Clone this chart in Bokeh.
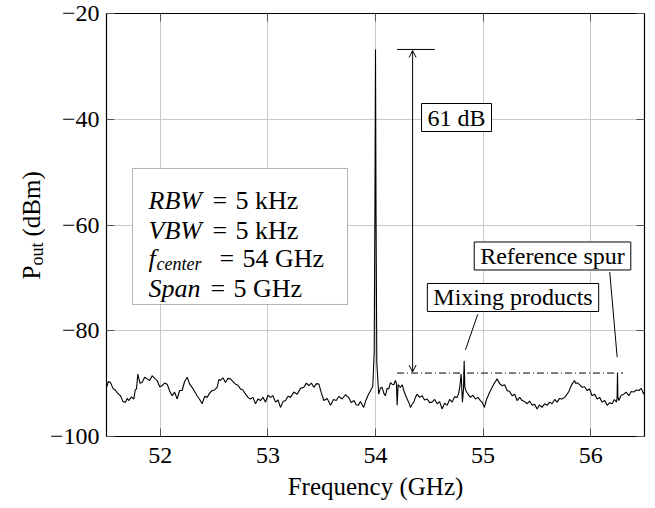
from bokeh.plotting import figure
from bokeh.layouts import row
from bokeh.models import (ColumnDataSource, Label, Arrow, OpenHead, BoxAnnotation,
                          FixedTicker, LinearAxis)
from bokeh.embed import file_html
from bokeh.resources import INLINE
from math import pi

# ---------------- data ----------------
freq_ghz = [
    51.500, 51.518, 51.537, 51.560, 51.584, 51.607, 51.630, 51.653, 51.677, 51.692,
    51.708, 51.731, 51.754, 51.767, 51.779, 51.791, 51.811, 51.831, 51.855, 51.878,
    51.901, 51.924, 51.948, 51.971, 51.994, 52.017, 52.040, 52.064, 52.087, 52.110,
    52.133, 52.157, 52.180, 52.203, 52.226, 52.250, 52.273, 52.296, 52.319, 52.342,
    52.366, 52.389, 52.412, 52.435, 52.458, 52.482, 52.505, 52.528, 52.544, 52.559,
    52.582, 52.606, 52.629, 52.652, 52.675, 52.699, 52.722, 52.745, 52.768, 52.792,
    52.815, 52.838, 52.861, 52.885, 52.908, 52.931, 52.955, 52.978, 53.001, 53.024,
    53.047, 53.071, 53.094, 53.117, 53.141, 53.164, 53.187, 53.210, 53.241, 53.272,
    53.303, 53.334, 53.358, 53.381, 53.404, 53.427, 53.451, 53.474, 53.497, 53.520,
    53.551, 53.582, 53.610, 53.635, 53.660, 53.690, 53.720, 53.750, 53.775, 53.800,
    53.820, 53.840, 53.860, 53.890, 53.910, 53.935, 53.955, 53.975, 53.988, 53.995,
    54.000, 54.005, 54.012, 54.030, 54.046, 54.061, 54.077, 54.092, 54.108, 54.123,
    54.139, 54.154, 54.170, 54.185, 54.195, 54.201, 54.210, 54.232, 54.248, 54.263,
    54.279, 54.294, 54.310, 54.325, 54.340, 54.356, 54.371, 54.387, 54.410, 54.433,
    54.456, 54.480, 54.503, 54.526, 54.550, 54.573, 54.596, 54.619, 54.642, 54.666,
    54.689, 54.712, 54.735, 54.758, 54.772, 54.783, 54.796, 54.808, 54.818, 54.824,
    54.830, 54.839, 54.860, 54.882, 54.905, 54.929, 54.952, 54.975, 54.994, 55.012,
    55.032, 55.053, 55.076, 55.099, 55.115, 55.130, 55.154, 55.177, 55.200, 55.223,
    55.246, 55.270, 55.293, 55.316, 55.340, 55.363, 55.386, 55.409, 55.432, 55.456,
    55.479, 55.502, 55.525, 55.548, 55.572, 55.595, 55.618, 55.641, 55.665, 55.688,
    55.711, 55.734, 55.758, 55.781, 55.797, 55.812, 55.830, 55.849, 55.862, 55.874,
    55.897, 55.920, 55.944, 55.967, 55.990, 56.013, 56.037, 56.060, 56.083, 56.106,
    56.130, 56.153, 56.176, 56.199, 56.220, 56.239, 56.245, 56.249, 56.253, 56.261,
    56.284, 56.307, 56.330, 56.354, 56.377, 56.400, 56.424, 56.447, 56.470, 56.493,
    56.500,
]
p_out_dbm = [
    -90.7, -89.6, -89.8, -90.9, -91.3, -91.9, -92.3, -93.4, -93.5, -92.8,
    -93.2, -92.5, -92.9, -91.2, -91.0, -88.2, -89.9, -89.8, -88.8, -89.1,
    -89.4, -88.5, -89.0, -89.4, -90.6, -90.4, -89.9, -90.1, -91.4, -92.3,
    -91.6, -92.9, -91.3, -91.3, -89.6, -88.8, -90.1, -90.7, -91.5, -92.3,
    -93.0, -93.8, -92.4, -92.6, -91.8, -91.3, -91.2, -90.7, -89.2, -89.4,
    -88.9, -89.8, -89.0, -89.1, -89.6, -90.1, -90.3, -91.0, -91.2, -92.0,
    -92.6, -92.9, -92.6, -93.8, -92.9, -93.2, -92.6, -93.5, -92.2, -92.6,
    -92.3, -93.5, -93.1, -94.5, -93.4, -93.2, -92.4, -92.6, -91.6, -92.0,
    -90.9, -90.7, -89.9, -90.4, -89.9, -90.7, -90.0, -90.1, -91.8, -93.2,
    -92.8, -94.1, -93.0, -93.2, -92.4, -92.9, -92.1, -92.6, -93.6, -93.2,
    -94.0, -94.1, -93.4, -94.5, -93.2, -92.0, -91.3, -90.5, -84.0, -55.0,
    -26.8, -58.0, -86.0, -92.0, -90.8, -90.7, -91.8, -92.3, -90.9, -91.0,
    -89.8, -90.1, -90.2, -89.4, -90.0, -94.1, -90.2, -90.7, -90.2, -91.3,
    -92.2, -92.9, -93.6, -94.5, -93.9, -93.5, -92.6, -92.0, -92.6, -92.3,
    -93.1, -92.9, -93.6, -93.5, -93.0, -93.8, -93.4, -94.8, -93.7, -94.1,
    -93.0, -93.5, -92.5, -92.6, -91.9, -90.7, -88.2, -93.5, -91.0, -85.7,
    -90.5, -91.3, -92.0, -92.6, -92.2, -92.9, -92.6, -93.2, -93.6, -94.5,
    -93.0, -92.0, -91.0, -90.1, -89.6, -89.1, -90.0, -90.4, -90.2, -91.3,
    -91.5, -92.3, -92.0, -93.2, -92.6, -93.2, -93.4, -93.8, -93.3, -94.1,
    -93.9, -94.8, -94.0, -94.5, -93.8, -94.1, -93.5, -93.8, -93.0, -93.5,
    -92.8, -92.9, -92.6, -92.0, -91.5, -90.7, -90.0, -89.4, -90.0, -89.8,
    -90.2, -90.7, -90.6, -91.3, -91.0, -92.3, -92.0, -92.9, -92.6, -93.5,
    -93.2, -94.1, -93.6, -93.8, -93.0, -93.5, -92.8, -88.0, -92.5, -93.2,
    -92.2, -92.0, -91.6, -92.3, -91.5, -91.6, -91.2, -91.3, -90.9, -92.0,
    -91.5,
]

x_ticks = [52, 53, 54, 55, 56]
y_ticks = [-100, -80, -60, -40, -20]
y_tick_labels = ["\u2212100", "\u221280", "\u221260", "\u221240", "\u221220"]

carrier_dbm = -26.8
floor_ref_dbm = -88.0
dynamic_range_text = "61 dB"

info_italic = ["RBW", "VBW", "f", "Span"]
info_value = ["5 kHz", "5 kHz", "54 GHz", "5 GHz"]
info_sub = "center"

FONT = "Liberation Serif"
FS = "24px"
FRAME_W, FRAME_H = 538, 423
TOP, BOTTOM = 13, 60
SIDE_W = 45

# ---------------- main figure ----------------
p = figure(frame_width=FRAME_W, frame_height=FRAME_H, x_range=(51.5, 56.5), y_range=(-100, -20),
           output_backend="svg", toolbar_location=None,
           min_border_left=106 - SIDE_W, min_border_top=TOP, min_border_right=8,
           min_border_bottom=BOTTOM)
p.background_fill_color = "white"
p.border_fill_color = "white"
p.outline_line_color = "black"
p.outline_line_width = 1.2

for ax in (p.xaxis[0], p.yaxis[0]):
    ax.major_label_text_font = FONT
    ax.major_label_text_font_size = FS
    ax.major_label_text_color = "black"
    ax.axis_label_text_font = FONT
    ax.axis_label_text_font_size = "25px"
    ax.axis_label_text_font_style = "normal"
    ax.axis_label_text_color = "black"
    ax.major_tick_in = 8
    ax.major_tick_out = 0
    ax.minor_tick_line_color = None
    ax.major_tick_line_color = "#555555"
    ax.axis_line_color = "black"

p.xaxis.ticker = FixedTicker(ticks=x_ticks)
p.yaxis.ticker = FixedTicker(ticks=y_ticks)
p.yaxis.major_label_overrides = {t: s for t, s in zip(y_ticks, y_tick_labels)}
p.xaxis.axis_label = "Frequency (GHz)"
p.xaxis.major_label_standoff = 11
p.xaxis.axis_label_standoff = 7
p.yaxis.major_label_standoff = 7

for loc, tk in (("above", x_ticks), ("right", y_ticks)):
    ax = LinearAxis(ticker=FixedTicker(ticks=tk), major_label_text_font_size="0px",
                    major_label_standoff=0, major_tick_in=8, major_tick_out=0,
                    minor_tick_line_color=None, major_tick_line_color="#555555",
                    axis_line_color="black")
    ax.major_label_overrides = {t: "" for t in tk}
    p.add_layout(ax, loc)

p.grid.grid_line_color = "#c8c8c8"
p.grid.grid_line_width = 1
p.xgrid.ticker = FixedTicker(ticks=x_ticks)
p.ygrid.ticker = FixedTicker(ticks=y_ticks)

src = ColumnDataSource(dict(f=freq_ghz, p=p_out_dbm))
p.line("f", "p", source=src, line_color="black", line_width=1.1)

# ---------------- annotations ----------------
p.segment(x0=[54.2], y0=[carrier_dbm], x1=[54.55], y1=[carrier_dbm], line_color="black", line_width=1)
p.segment(x0=[54.2], y0=[floor_ref_dbm], x1=[56.3], y1=[floor_ref_dbm], line_color="black",
          line_width=1, line_dash="7 3 1 3")
p.add_layout(Arrow(x_start=54.345, y_start=floor_ref_dbm + 0.2, x_end=54.345, y_end=carrier_dbm - 0.2,
                   line_color="black", line_width=1,
                   start=OpenHead(size=7, line_width=1, line_color="black"),
                   end=OpenHead(size=7, line_width=1, line_color="black")))

def boxed(x, y, text):
    p.add_layout(Label(x=x, y=y, text=text, text_font=FONT, text_font_size=FS, text_color="black",
                       text_align="center", text_baseline="middle",
                       background_fill_color="white", border_line_color="black", border_line_width=1,
                       padding=dict(left=6, right=6, top=1, bottom=1)))

boxed(54.753, -39.67, dynamic_range_text)
boxed(55.278, -73.71, "Mixing products")
boxed(55.645, -65.86, "Reference spur")

p.segment(x0=[54.95, 56.177], y0=[-76.9, -68.9], x1=[54.836, 56.246], y1=[-83.6, -85.0],
          line_color="black", line_width=1)

# info box
BX_L, BX_R, BX_T, BX_B = 51.742, 53.740, -49.31, -75.03
p.add_layout(BoxAnnotation(left=BX_L, right=BX_R, top=BX_T, bottom=BX_B,
                           fill_color="white", fill_alpha=1, line_color="black", line_width=1,
                           level="annotation"))
IFS = "26px"
base_off = [-32, -62, -90.5, -120]
eq_x = [80, 80, 87, 78]
for i in range(4):
    p.add_layout(Label(x=BX_L, y=BX_T, x_offset=16, y_offset=base_off[i], text=info_italic[i],
                       text_font=FONT, text_font_size=IFS, text_font_style="italic",
                       text_color="black", text_baseline="alphabetic"))
    if i == 2:
        p.add_layout(Label(x=BX_L, y=BX_T, x_offset=24, y_offset=base_off[i] - 5,
                           text=info_sub, text_font=FONT, text_font_size="18px",
                           text_font_style="italic", text_color="black", text_baseline="alphabetic"))
    p.add_layout(Label(x=BX_L, y=BX_T, x_offset=eq_x[i], y_offset=base_off[i], text="=",
                       text_font=FONT, text_font_size=IFS, text_color="black",
                       text_baseline="alphabetic"))
    p.add_layout(Label(x=BX_L, y=BX_T, x_offset=eq_x[i] + 23, y_offset=base_off[i],
                       text=info_value[i], text_font=FONT, text_font_size=IFS,
                       text_color="black", text_baseline="alphabetic"))

# ---------------- side figure carrying the rotated y-axis label P_out (dBm) ----------------
side = figure(frame_width=SIDE_W, frame_height=FRAME_H, x_range=(0, SIDE_W), y_range=(0, FRAME_H),
              output_backend="svg", toolbar_location=None,
              x_axis_location=None, y_axis_location=None,
              min_border_left=0, min_border_right=0, min_border_top=TOP, min_border_bottom=BOTTOM)
side.outline_line_color = None
side.grid.grid_line_color = None
side.background_fill_color = "white"
side.border_fill_color = "white"

ylab_main = "P"
ylab_sub = "out"
ylab_unit = "(dBm)"
side.add_layout(Label(x=31, y=157, text=ylab_main, angle=pi / 2, text_font=FONT,
                      text_font_size="25px", text_color="black", text_align="left",
                      text_baseline="alphabetic"))
side.add_layout(Label(x=36, y=171, text=ylab_sub, angle=pi / 2, text_font=FONT,
                      text_font_size="18px", text_color="black", text_align="left",
                      text_baseline="alphabetic"))
side.add_layout(Label(x=31, y=200, text=ylab_unit, angle=pi / 2, text_font=FONT,
                      text_font_size="25px", text_color="black", text_align="left",
                      text_baseline="alphabetic"))

layout = row(side, p, spacing=0)
open("out.html", "w").write(file_html(layout, INLINE))
